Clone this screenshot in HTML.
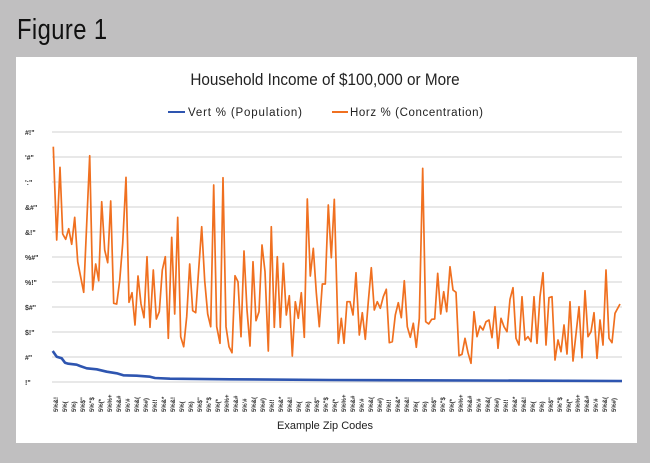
<!DOCTYPE html>
<html><head><meta charset="utf-8"><style>
html,body{margin:0;padding:0}
body{width:650px;height:463px;background:#c0bfc0;position:relative;overflow:hidden;font-family:"Liberation Sans",sans-serif}
#fig{position:absolute;left:17px;top:14px;font-size:29px;color:#111;transform:scaleX(0.82);transform-origin:left top;letter-spacing:0.5px}
#panel{position:absolute;left:16px;top:57px;width:621px;height:386px;background:#fff}
</style></head><body>
<div id="fig">Figure 1</div>
<div id="panel"></div>
<svg id="s" width="650" height="463" style="position:absolute;left:0;top:0" xmlns="http://www.w3.org/2000/svg">
<text x="325" y="85" text-anchor="middle" font-family="Liberation Sans, sans-serif" font-size="17" fill="#222" transform="translate(325 0) scale(0.9 1) translate(-325 0)">Household Income of $100,000 or More</text>
<line x1="168" y1="112" x2="185" y2="112" stroke="#2e55b0" stroke-width="2"/>
<text x="188" y="116" font-size="11.5" fill="#222" font-family="Liberation Sans, sans-serif" textLength="114">Vert % (Population)</text>
<line x1="332" y1="112" x2="348" y2="112" stroke="#f07020" stroke-width="2"/>
<text x="350" y="116" font-size="11.5" fill="#222" font-family="Liberation Sans, sans-serif" textLength="133">Horz % (Concentration)</text>
<g id="grid"></g>
<g id="ylab" font-size="7" font-weight="bold" fill="#333" font-family="Liberation Sans, sans-serif"></g>
<g id="xlab" font-size="6" font-weight="bold" fill="#333" font-family="Liberation Sans, sans-serif"></g>
<polyline id="blue" fill="none" stroke="#2e55b0" stroke-width="2.6" stroke-linejoin="round"/>
<polyline id="orange" fill="none" stroke="#f07020" stroke-width="1.7" stroke-linejoin="round"/>
<text x="325" y="429" text-anchor="middle" font-size="11" fill="#222" font-family="Liberation Sans, sans-serif">Example  Zip Codes</text>
</svg>
<script>
var NS="http://www.w3.org/2000/svg";
var g=document.getElementById('grid'),yl=document.getElementById('ylab'),xl=document.getElementById('xlab');
var labs=['#!"',"'#\"","':\"",'&#"','&!"','%#"','%!"','$#"','$!"','#"','!"'];
for(var i=0;i<11;i++){var y=132+25*i;var l=document.createElementNS(NS,'line');l.setAttribute('x1',52);l.setAttribute('x2',622);l.setAttribute('y1',y);l.setAttribute('y2',y);l.setAttribute('stroke','#d9d9d9');l.setAttribute('stroke-width','1.2');g.appendChild(l);
var t=document.createElementNS(NS,'text');t.setAttribute('x',25);t.setAttribute('y',y+3);t.textContent=labs[i];yl.appendChild(t);}
var ch=['5%&!','5%(','5%)','5%$"','5%"$','5%(*','5%%+','5%&#','5%\'#','5%&(','5%#)','5%!!','5%&*'];
for(var x=56,k=0;x<622;x+=9,k++){var t=document.createElementNS(NS,'text');t.setAttribute('transform','translate('+(x+2)+' 412) rotate(-90)');t.textContent=ch[k%ch.length];xl.appendChild(t);}
var o3=[[40,50],[50,330],[60,112],[68,312],[77,328],[86,296],[95,343],[104,262],[113,395],[131,487],[149,77],[158,480],[167,402],[176,452],[185,215],[194,360],[203,398],[212,213],[221,520],[230,522],[239,452],[248,340],[258,142],[267,517],[276,488],[285,585],[294,438],[303,522],[312,563],[321,380],[330,592],[340,420],[349,567],[358,545],[367,420],[376,380],[385,625],[395,322],[404,552],[413,262],[422,620],[431,650],[440,560],[449,402],[458,542],[467,548],[476,418],[485,290],[494,452],[503,552],[512,590],[521,165],[530,590],[540,640],[549,143],[558,590],[567,650],[576,668],[585,437],[594,455],[603,620],[612,363],[621,540],[630,648],[639,395],[648,572],[657,545],[666,345],[675,425],[685,663],[694,290],[703,592],[712,380],[721,592],[730,400],[739,555],[748,497],[757,678],[766,515],[775,565],[784,488],[793,622],[802,207],[811,438],[820,355],[829,488],[838,590],[847,462],[856,462],[865,225],[874,383],[883,208]];
var o4=[[25,640],[34,565],[42,640],[51,515],[60,515],[69,555],[78,428],[88,615],[97,548],[106,628],[115,515],[124,413],[133,540],[142,515],[151,535],[160,500],[169,478],[178,638],[187,635],[196,555],[205,518],[214,563],[223,452],[232,590],[241,622],[250,580],[259,652],[268,565],[278,115],[287,575],[296,582],[305,568],[314,567],[323,430],[332,552],[341,485],[350,545],[360,410],[369,480],[378,487],[387,677],[396,673],[405,625],[414,668],[423,700],[432,545],[441,620],[450,588],[459,600],[468,575],[477,570],[486,623],[495,530],[504,655],[513,565],[522,590],[531,605],[540,508],[549,473],[558,625],[567,645],[576,500],[585,630],[594,620],[603,635],[612,500],[621,640],[630,500],[639,428],[648,645],[657,503],[666,500],[675,690],[684,630],[693,665],[702,585],[711,672],[720,515],[729,693],[738,612],[747,530],[756,683],[765,482],[774,620],[783,605],[792,548],[801,685],[810,570],[819,645],[828,420],[837,625],[846,638],[855,550],[870,522]];
var p=[];o3.forEach(function(a){p.push((40+a[0]/3).toFixed(1)+','+(130+a[1]/3).toFixed(1))});
o4.forEach(function(a){p.push((330+a[0]/3).toFixed(1)+','+(130+a[1]/3).toFixed(1))});
document.getElementById('orange').setAttribute('points',p.join(' '));
var b=[[68,213],[80,230],[95,235],[105,248],[115,251],[140,254],[150,258],[170,265],[200,268],[230,275],[260,280],[280,286],[320,287],[360,290],[375,294],[420,296],[600,298],[900,300]];
var q=b.map(function(a){return (30+a[0]/3).toFixed(1)+','+(280+a[1]/3).toFixed(1)});q.push('622,381');
document.getElementById('blue').setAttribute('points',q.join(' '));
</script>
</body></html>
